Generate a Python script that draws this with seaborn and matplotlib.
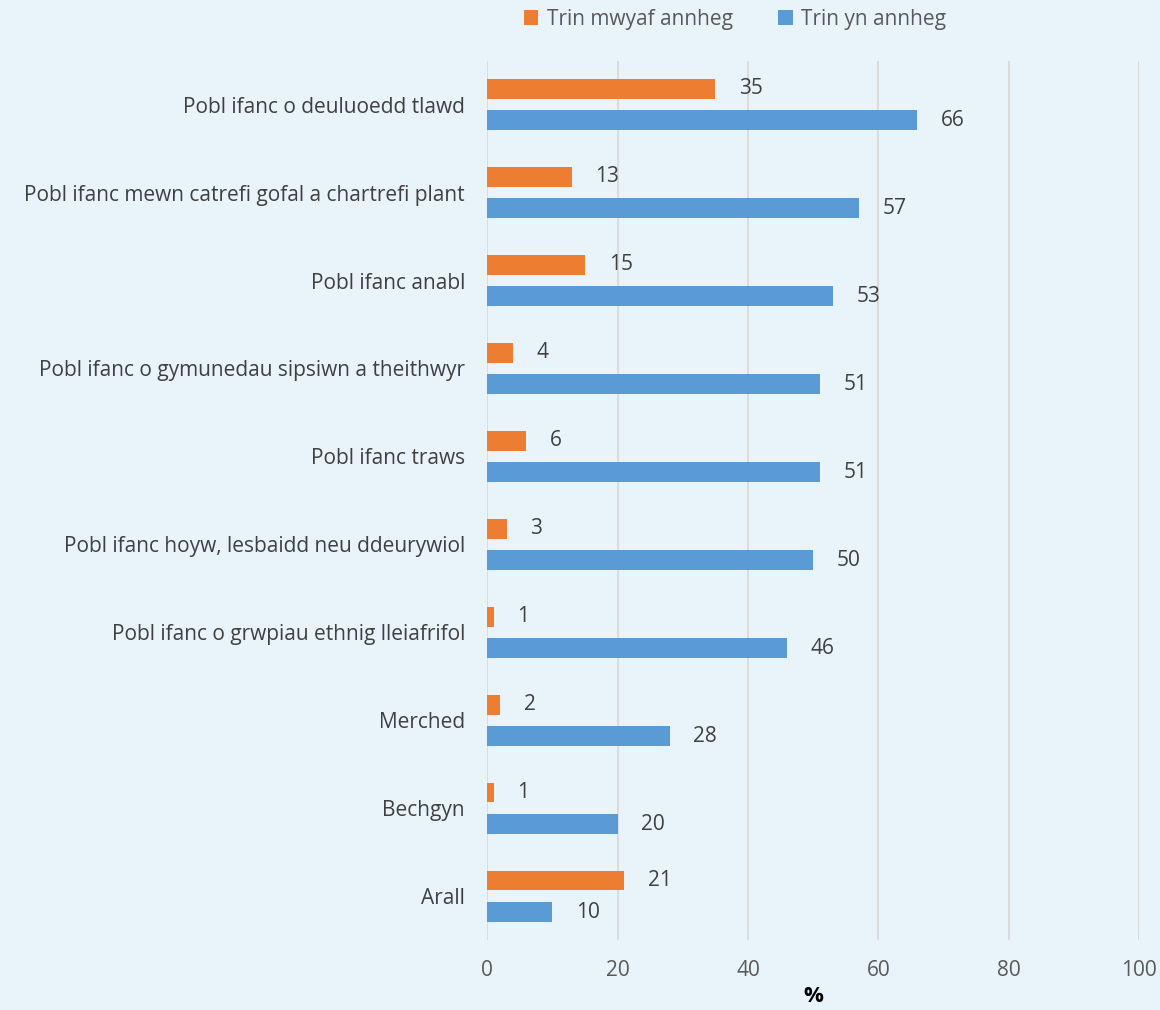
import pandas as pd
import matplotlib.pyplot as plt
import seaborn as sns

# Data
groups = [
    "Pobl ifanc o deuluoedd tlawd",
    "Pobl ifanc mewn catrefi gofal a chartrefi plant",
    "Pobl ifanc anabl",
    "Pobl ifanc o gymunedau sipsiwn a theithwyr",
    "Pobl ifanc traws",
    "Pobl ifanc hoyw, lesbaidd neu ddeurywiol",
    "Pobl ifanc o grwpiau ethnig lleiafrifol",
    "Merched",
    "Bechgyn",
    "Arall",
]
most_unfair = [35, 13, 15, 4, 6, 3, 1, 2, 1, 21]
unfair = [66, 57, 53, 51, 51, 50, 46, 28, 20, 10]
series_names = ["Trin mwyaf annheg", "Trin yn annheg"]

df = pd.DataFrame({
    "group": groups * 2,
    "value": most_unfair + unfair,
    "series": [series_names[0]] * len(groups) + [series_names[1]] * len(groups),
})

bg = "#E8F3FA"
colors = {series_names[0]: "#ED7D31", series_names[1]: "#5B9BD5"}

sns.set_theme(style="white")
plt.rcParams["font.family"] = ["Open Sans", "DejaVu Sans"]

fig, ax = plt.subplots(figsize=(11.6, 10.1), dpi=100)
fig.patch.set_facecolor(bg)
ax.set_facecolor(bg)
fig.subplots_adjust(left=0.42, right=0.982, top=0.94, bottom=0.069)

sns.barplot(data=df, y="group", x="value", hue="series", palette=colors,
            orient="h", width=0.72, gap=0.37, saturation=1, linewidth=0,
            ax=ax, legend=True)

for cont in ax.containers:
    ax.bar_label(cont, padding=17, fontsize=15, color="#404040")

ax.set_xlim(0, 100)
ax.set_xticks(range(0, 101, 20))
ax.xaxis.grid(True, color="#D9D9D9", linewidth=1.3)
ax.set_axisbelow(True)
for s in ax.spines.values():
    s.set_visible(False)

ax.tick_params(axis="x", labelsize=15, labelcolor="#595959", length=0, pad=14)
ax.tick_params(axis="y", labelsize=15, labelcolor="#404040", length=0, pad=16)
ax.set_ylabel(None)
ax.set_xlabel("%", fontsize=16, fontweight="bold", color="black", labelpad=4)

leg = ax.legend(loc="upper center", bbox_to_anchor=(0.38, 1.08), ncol=2,
                frameon=False, fontsize=15, handlelength=0.7, handleheight=0.7,
                columnspacing=2.2, handletextpad=0.4)
for t in leg.get_texts():
    t.set_color("#595959")

plt.savefig("out.png", dpi=100, facecolor=bg)
